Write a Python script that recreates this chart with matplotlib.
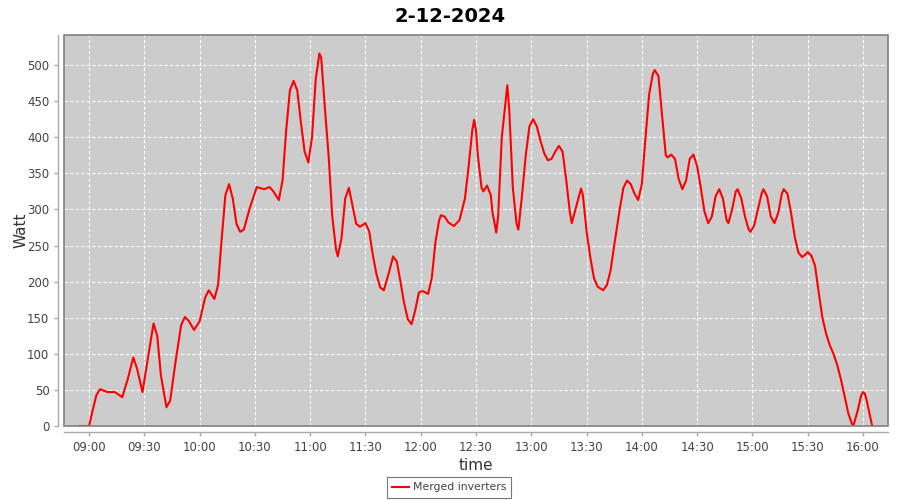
import matplotlib
matplotlib.use("Agg")
import matplotlib.pyplot as plt
import matplotlib.dates as mdates
from matplotlib.patches import Rectangle
import pandas as pd

title = "2-12-2024"
date = "2024-12-02"
series_name = "Merged inverters"

times = [
    "08:55", "09:00", "09:02", "09:04", "09:06", "09:10", "09:14", "09:18", "09:21", "09:24",
    "09:26", "09:29", "09:32", "09:35", "09:37", "09:39", "09:42", "09:44", "09:47", "09:50",
    "09:52", "09:54", "09:57", "10:00", "10:03", "10:05", "10:07", "10:08", "10:10", "10:12",
    "10:14", "10:16", "10:18", "10:20", "10:22", "10:24", "10:27", "10:31", "10:35", "10:38",
    "10:40", "10:43", "10:45", "10:47", "10:49", "10:51", "10:53", "10:55", "10:57", "10:59",
    "11:01", "11:03", "11:05", "11:06", "11:08", "11:10", "11:12", "11:14", "11:15", "11:17",
    "11:19", "11:21", "11:23", "11:25", "11:27", "11:30", "11:32", "11:34", "11:36", "11:38",
    "11:40", "11:43", "11:45", "11:47", "11:49", "11:51", "11:53", "11:55", "11:57", "11:59",
    "12:01", "12:04", "12:06", "12:08", "12:10", "12:11", "12:13", "12:15", "12:18", "12:21",
    "12:24", "12:26", "12:28", "12:29", "12:30", "12:31", "12:33", "12:34", "12:36", "12:38",
    "12:39", "12:41", "12:42", "12:44", "12:47", "12:48", "12:50", "12:52", "12:53", "12:55",
    "12:57", "12:59", "13:01", "13:03", "13:05", "13:07", "13:09", "13:11", "13:13", "13:15",
    "13:17", "13:19", "13:21", "13:22", "13:24", "13:27", "13:28", "13:30", "13:32", "13:34",
    "13:36", "13:39", "13:41", "13:43", "13:45", "13:48", "13:50", "13:52", "13:54", "13:56",
    "13:58", "14:00", "14:02", "14:04", "14:06", "14:07", "14:09", "14:11", "14:13", "14:14",
    "14:16", "14:18", "14:20", "14:22", "14:24", "14:26", "14:28", "14:30", "14:32", "14:34",
    "14:36", "14:38", "14:40", "14:42", "14:44", "14:46", "14:47", "14:49", "14:51", "14:52",
    "14:54", "14:56", "14:58", "14:59", "15:01", "15:03", "15:05", "15:06", "15:08", "15:10",
    "15:12", "15:14", "15:16", "15:17", "15:19", "15:21", "15:23", "15:25", "15:27", "15:29",
    "15:30", "15:32", "15:34", "15:36", "15:38", "15:40", "15:42", "15:44", "15:46", "15:48",
    "15:50", "15:52", "15:54", "15:55", "15:57", "15:59", "16:00", "16:01", "16:02", "16:04",
    "16:05",
]
watts = [
    0, 0, 22, 43, 51, 47, 47, 40, 65, 95,
    80, 47, 95, 142, 125, 70, 26, 35, 90, 140,
    151, 146, 133, 145, 178, 188, 180, 176, 195, 260,
    320, 335, 315, 280, 269, 272, 300, 331, 328, 331,
    325, 313, 340, 410, 465, 478, 465, 420, 380, 365,
    400, 480, 516, 510, 440, 375, 290, 245, 235, 260,
    315, 330, 305, 280, 276, 281, 270, 237, 210, 192,
    188, 215, 235, 228, 200, 170, 148, 141, 160, 185,
    187, 183, 205, 255, 285, 292, 290, 282, 277, 285,
    315, 360, 410, 424, 410, 375, 330, 325, 333, 320,
    295, 268, 290, 400, 472, 440, 330, 280, 272, 320,
    375, 415, 425, 415, 395, 378, 368, 370, 380, 388,
    380, 340, 295, 281, 300, 329, 320, 270, 234, 205,
    193, 188, 195, 215, 250, 300, 330, 340, 335, 322,
    313, 335, 400, 460, 488, 493, 485, 430, 375, 372,
    376, 370, 342, 328, 340, 370, 376, 360, 330, 297,
    281, 290, 318, 328, 315, 285, 281, 300, 325, 328,
    315, 290, 272, 269, 278, 300, 322, 328, 318, 290,
    281, 295, 322, 328, 322, 295, 262, 240, 234, 238,
    241, 236, 222, 185, 150, 128, 112, 100, 85, 65,
    42, 18, 3, 2, 20, 42, 47, 45, 36, 12,
    0,
]
y_ticks = [0, 50, 100, 150, 200, 250, 300, 350, 400, 450, 500]

t = pd.to_datetime([f"{date} {s}" for s in times])

fig = plt.figure(figsize=(9, 5), dpi=100)
fig.patch.set_facecolor("white")
ax = fig.add_axes([64 / 900, 1 - 426 / 500, (888 - 64) / 900, (426 - 35) / 500])
ax.set_facecolor("#cccccc")

ax.plot(t, watts, color="#ff0000", linewidth=1.5, label=series_name, zorder=3,
        solid_joinstyle="round")

ax.set_xlim(pd.Timestamp(f"{date} 08:46:24"), pd.Timestamp(f"{date} 16:13:36"))
ax.set_ylim(0, 541.6)
ax.set_yticks(y_ticks)
ax.xaxis.set_major_locator(mdates.MinuteLocator(byminute=[0, 30]))
ax.xaxis.set_major_formatter(mdates.DateFormatter("%H:%M"))

ax.grid(True, color="white", linestyle=(0, (3, 2)), linewidth=0.8)
ax.set_axisbelow(True)

for side in ["top", "right"]:
    ax.spines[side].set_visible(False)
for side in ["left", "bottom"]:
    ax.spines[side].set_position(("outward", 4))
    ax.spines[side].set_color("#aaaaaa")
    ax.spines[side].set_linewidth(1.0)
ax.add_patch(Rectangle((0, 0), 1, 1, transform=ax.transAxes, fill=False,
                       edgecolor="#808080", linewidth=1.2, clip_on=False, zorder=5))

ax.tick_params(axis="both", colors="#aaaaaa", labelcolor="#444444", labelsize=8.5,
               length=3, width=1, direction="out")

ax.set_ylabel("Watt", fontsize=11, color="#333333", labelpad=-1)
ax.set_xlabel("time", fontsize=11, color="#333333", labelpad=3)
fig.suptitle(title, fontsize=14, fontweight="bold", y=0.985, x=0.5)

leg = fig.legend(loc="center", bbox_to_anchor=(449 / 900, 1 - 487.5 / 500), frameon=True,
                 fontsize=7.8, fancybox=False, handlelength=1.6, handletextpad=0.3,
                 borderpad=0.5, borderaxespad=0)
leg.get_frame().set_edgecolor("#555555")
leg.get_frame().set_linewidth(0.8)
for txt in leg.get_texts():
    txt.set_color("#444444")

fig.savefig("out.png", dpi=100)
